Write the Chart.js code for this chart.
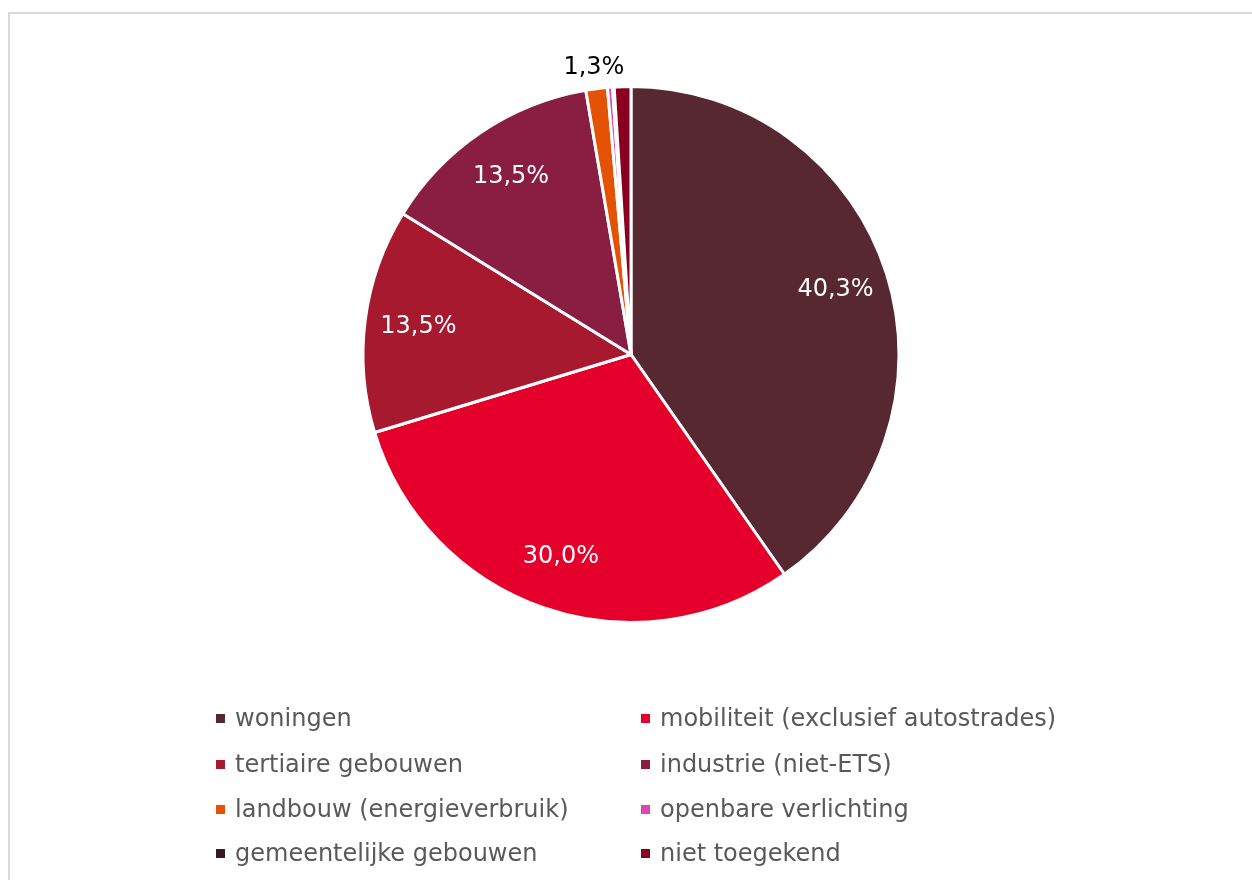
<!DOCTYPE html>
<html>
<head>
<meta charset="utf-8">
<script src="https://cdn.jsdelivr.net/npm/chart.js@4/dist/chart.umd.min.js"></script>
<style>
  html, body { margin: 0; padding: 0; background: #ffffff; }
  body { width: 1252px; height: 880px; position: relative; overflow: hidden; font-family: "DejaVu Sans", Verdana, sans-serif; }
  #frame { position: absolute; left: 8px; top: 12px; width: 1250px; height: 900px; border: 2px solid #d9d9d9; box-sizing: border-box; }
  #wrap { position: absolute; left: 0; top: 0; width: 1252px; height: 880px; }
  #legend { position: absolute; left: 0; top: 0; width: 1252px; height: 880px; pointer-events: none; }
  .item { position: absolute; font-size: 24px; color: #595959; white-space: nowrap; line-height: 28px; }
  .sw { position: absolute; width: 9px; height: 9px; }
</style>
</head>
<body>
<div id="frame"></div>
<div id="wrap"><canvas id="c" width="1252" height="880"></canvas></div>
<div id="legend"></div>
<script>
const categories = [
  "woningen",
  "mobiliteit (exclusief autostrades)",
  "tertiaire gebouwen",
  "industrie (niet-ETS)",
  "landbouw (energieverbruik)",
  "openbare verlichting",
  "gemeentelijke gebouwen",
  "niet toegekend"
];
const values = [40.3, 30.0, 13.5, 13.5, 1.3, 0.3, 0.1, 1.0];
const colors = ["#582832", "#E4002B", "#A6192E", "#891D42", "#E35205", "#DE45B2", "#3A1A22", "#8A0020"];
const labelShown = [true, true, true, true, true, false, false, false];
const labelInside = [true, true, true, true, false, false, false, false];

function fmt(v) { return v.toFixed(1).replace('.', ',') + '%'; }

const labelPlugin = {
  id: 'sliceLabels',
  afterDatasetsDraw(chart) {
    const ctx = chart.ctx;
    const meta = chart.getDatasetMeta(0);
    ctx.save();
    ctx.font = '24px "DejaVu Sans", Verdana, sans-serif';
    ctx.textAlign = 'center';
    ctx.textBaseline = 'middle';
    meta.data.forEach((arc, i) => {
      if (!labelShown[i]) return;
      const p = arc.getProps(['x', 'y', 'startAngle', 'endAngle', 'outerRadius'], true);
      const mid = (p.startAngle + p.endAngle) / 2;
      let r, col;
      if (labelInside[i]) { r = p.outerRadius * 0.8; col = '#ffffff'; }
      else { r = p.outerRadius + 21; col = '#000000'; }
      ctx.fillStyle = col;
      ctx.fillText(fmt(values[i]), p.x + Math.cos(mid) * r, p.y + Math.sin(mid) * r);
    });
    ctx.restore();
  }
};

new Chart(document.getElementById('c'), {
  type: 'pie',
  data: {
    labels: categories,
    datasets: [{
      data: values,
      backgroundColor: colors,
      borderColor: '#ffffff',
      borderWidth: 3
    }]
  },
  options: {
    responsive: false,
    animation: false,
    layout: { padding: { top: 85, bottom: 256, left: 100, right: 90 } },
    plugins: {
      legend: { display: false },
      tooltip: { enabled: false }
    }
  },
  plugins: [labelPlugin]
});

// HTML legend built from the same arrays
const legend = document.getElementById('legend');
const colX = [216, 641];
const rowY = [718, 764, 809, 853];
categories.forEach((name, i) => {
  const col = i % 2, row = Math.floor(i / 2);
  const sw = document.createElement('div');
  sw.className = 'sw';
  sw.style.background = colors[i];
  sw.style.left = colX[col] + 'px';
  sw.style.top = (rowY[row] - 4.5) + 'px';
  legend.appendChild(sw);
  const t = document.createElement('div');
  t.className = 'item';
  t.textContent = name;
  t.style.left = (colX[col] + 19) + 'px';
  t.style.top = (rowY[row] - 14) + 'px';
  legend.appendChild(t);
});
</script>
</body>
</html>
